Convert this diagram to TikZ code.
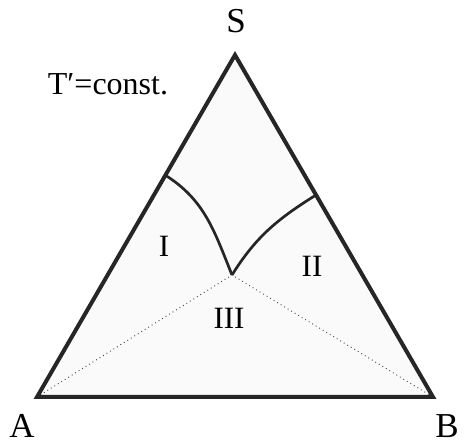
\documentclass[tikz,border=0pt]{standalone}
\usepackage{fontspec}
\setmainfont{Liberation Serif}
\begin{document}
\begin{tikzpicture}[x=1pt, y=1pt,
    phase/.style={line width=2.7pt, black!85},
    tie/.style={line width=0.9pt, black!75, dash pattern=on 0.9pt off 3.2pt},
    corner/.style={font=\fontsize{35}{35}\selectfont},
    region/.style={font=\fontsize{31}{31}\selectfont}]
        \useasboundingbox (0, 0) rectangle (464, 444);
        % Corners
        \coordinate (A) at (37, 47);
        \coordinate (B) at (433, 47);
        \coordinate (S) at (235, 389);
        \coordinate (P) at (232, 169);
        \coordinate (L) at (165, 269);
        \coordinate (R) at (316, 249);
        % Triangle
        \fill[black!2] (A) -- (B) -- (S) -- cycle;
        \draw[tie] (A) -- (P) -- (B);
        \draw[phase] (L) to[out=-32, in=112] (P);
        \draw[phase] (P) to[out=58, in=212] (R);
        \draw[line width=4pt, black!85, line join=miter] (A) -- (B) -- (S) -- cycle;
        % Labels
        \node[corner] (labS) at (236, 423) {S};
        \node[corner] (labA) at (22, 18) {A};
        \node[corner] (labB) at (447, 18) {B};
        \node[font=\fontsize{32}{32}\selectfont] (cond) at (108, 360) {T′=const.};
        \node[region] (one) at (164, 198) {I};
        \node[region] (two) at (312, 178) {II};
        \node[region] (three) at (229, 126) {III};
    \end{tikzpicture}
\end{document}
